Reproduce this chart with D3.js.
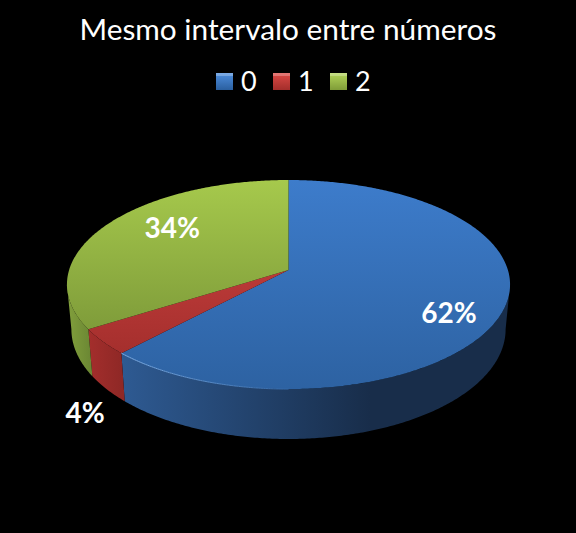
<!DOCTYPE html>
<html>
<head>
<meta charset="utf-8">
<script src="https://cdn.jsdelivr.net/npm/d3@7"></script>
<style>
  html, body { margin: 0; padding: 0; background: #000; }
  text { font-family: Lato, "Open Sans", sans-serif; fill: #fff; }
</style>
</head>
<body>
<div id="chart"></div>
<script>
const categories = ["0", "1", "2"];
const values = [62, 4, 34];
const labels = ["62%", "4%", "34%"];
const title = "Mesmo intervalo entre números";

const topColors = [["#3d7ccb", "#2d62a2"], ["#bb3a38", "#a52f2d"], ["#a6c94c", "#7f9c3a"]];
const wallColors = [["#2e5a92", "#182d4a"], ["#a42e2c", "#8f2826"], ["#82a03c", "#6c8834"]];
const swatchColors = [["#4f8fdf", "#2a5f9f"], ["#dd4a46", "#a32e2b"], ["#b4d65a", "#7f9c38"]];

const width = 576, height = 533;
const persp = 0.139; // the pie is tilted, so the near edge draws bigger

const svg = d3.select("#chart").append("svg")
    .attr("width", width).attr("height", height)
    .style("display", "block");

// unit circle to screen
let x = d3.scaleLinear().domain([-1, 1]).range([288.5 - 219.4, 288.5 + 219.4]);
let y = d3.scaleLinear().domain([-1, 1]).range([270 - 102.5, 270 + 102.5]);
let xBase = d3.scaleLinear().domain([-1, 1]).range([288.5 - 215, 288.5 + 215]);
let yBase = d3.scaleLinear().domain([-1, 1]).range([314 - 107.6, 314 + 107.6]);

function project(a, r, sx, sy) {
    let u = r * Math.sin(a), v = -r * Math.cos(a), w = 1 - persp * v;
    return [sx(u / w), sy(v / w)];
}
function arcAngles(a0, a1) {
    let n = Math.max(2, Math.ceil((a1 - a0) / 0.01));
    return d3.range(n + 1).map(i => a0 + (a1 - a0) * i / n);
}

let pie = d3.pie().sort(null)(values);
let line = d3.line();

const defs = svg.append("defs");
function gradient(id, stops, horizontal, x1, x2) {
    let g = defs.append("linearGradient").attr("id", id);
    if (horizontal) {
        g.attr("gradientUnits", "userSpaceOnUse").attr("x1", x1).attr("x2", x2).attr("y1", 0).attr("y2", 0);
    } else {
        g.attr("x1", 0).attr("x2", 0).attr("y1", 0).attr("y2", 1);
    }
    g.append("stop").attr("offset", 0).attr("stop-color", stops[0]);
    g.append("stop").attr("offset", 1).attr("stop-color", stops[1]);
}
categories.forEach((c, i) => {
    gradient("top" + i, topColors[i]);
    gradient("swatch" + i, swatchColors[i]);
});
gradient("wall0", wallColors[0], true, 122, 370);
gradient("wall1", wallColors[1], true, 88, 122);
gradient("wall2", wallColors[2], true, 67, 90);
gradient("rim", ["#7fb0ea", "#2d62a2"], true, 122, 300);

// side walls, only the part facing the viewer (between the widest points)
const wallStart = Math.acos(-persp), wallEnd = 2 * Math.PI - wallStart;
svg.append("g").selectAll("path")
    .data(pie)
    .join("path")
    .attr("fill", (d, i) => `url(#wall${i})`)
    .attr("d", d => {
        let a0 = Math.max(d.startAngle, wallStart), a1 = Math.min(d.endAngle, wallEnd);
        if (a1 <= a0) return null;
        let as = arcAngles(a0, a1);
        let pts = as.map(a => project(a, 1, x, y))
            .concat(as.slice().reverse().map(a => project(a, 1, xBase, yBase)));
        return line(pts) + "Z";
    });

// top surface
svg.append("g").selectAll("path")
    .data(pie)
    .join("path")
    .attr("fill", (d, i) => `url(#top${i})`)
    .attr("d", d => {
        let pts = [project(0, 0, x, y)].concat(arcAngles(d.startAngle, d.endAngle).map(a => project(a, 1, x, y)));
        return line(pts) + "Z";
    });

// light rim along the front edge of the big slice, fades to the right
svg.append("path")
    .datum(pie[0])
    .attr("fill", "none")
    .attr("stroke", "url(#rim)")
    .attr("d", d => line(arcAngles(Math.PI, d.endAngle).map(a => project(a, 1, x, y))));

// title and legend
svg.append("text")
    .attr("x", 288).attr("y", 40)
    .attr("text-anchor", "middle")
    .attr("font-size", 29.8)
    .text(title);

let legendX = d3.scalePoint().domain(categories).range([216, 330]);
let legend = svg.append("g").selectAll("g")
    .data(categories)
    .join("g")
    .attr("transform", d => `translate(${legendX(d)},73)`);
legend.append("rect")
    .attr("width", 17).attr("height", 17)
    .attr("fill", (d, i) => `url(#swatch${i})`);
legend.append("rect")
    .attr("width", 17).attr("height", 3)
    .attr("fill", "#fff").attr("fill-opacity", 0.25);
legend.append("text")
    .attr("x", 25).attr("y", 18)
    .attr("font-size", 27)
    .text(d => d);

// data labels: offset from the rim point at each slice's mid angle
const labelDx = [-54.5, -18, 64], labelDy = [13, 81.5, 14];
svg.append("g").selectAll("text")
    .data(pie)
    .join("text")
    .attr("text-anchor", "middle")
    .attr("font-size", 28)
    .attr("font-weight", 700)
    .attr("transform", (d, i) => {
        let p = project((d.startAngle + d.endAngle) / 2, 1, x, y);
        return `translate(${p[0] + labelDx[i]},${p[1] + labelDy[i]})`;
    })
    .text((d, i) => labels[i]);
</script>
</body>
</html>
